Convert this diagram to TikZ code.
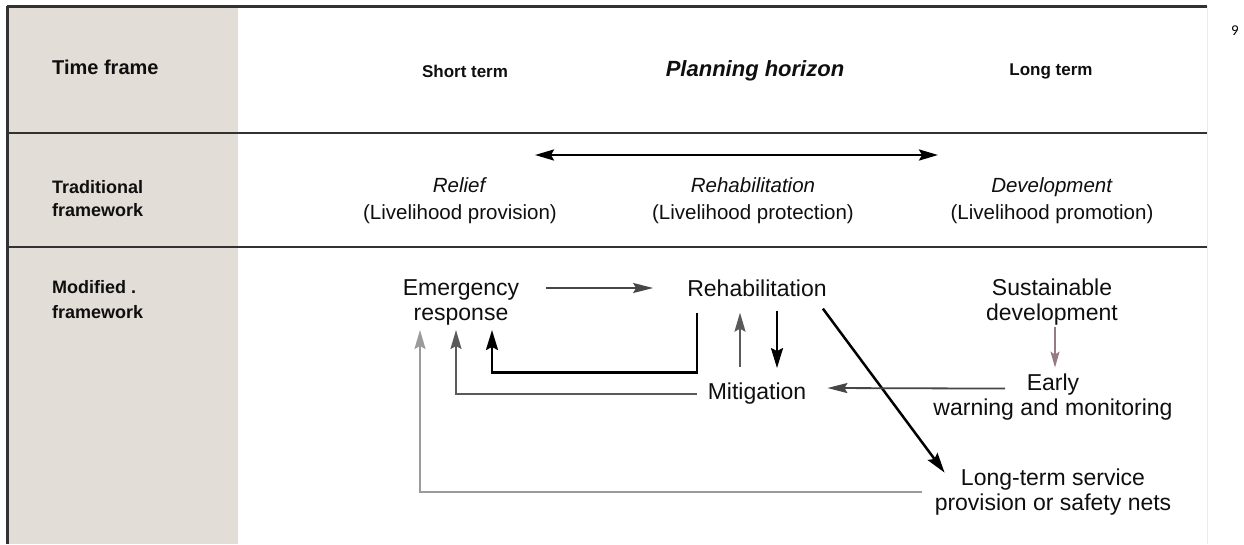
\documentclass[tikz,border=0pt]{standalone}
\usepackage{fontspec}
\setmainfont{Liberation Sans}
\newfontfamily\pagefont{Carlito}
\usetikzlibrary{arrows.meta}
\definecolor{colgrey}{RGB}{227,221,215}
\definecolor{rulegrey}{RGB}{50,50,50}
\definecolor{darkarr}{RGB}{70,70,70}
\definecolor{midarr}{RGB}{90,90,90}
\definecolor{lightarr}{RGB}{155,155,155}
\definecolor{mauvearr}{RGB}{150,122,132}
\definecolor{inktext}{RGB}{15,15,15}
\tikzset{
  x=1pt, y=-1pt,
  modtext/.style={inner sep=0pt, align=center, text=inktext, font=\fontsize{23}{25}\selectfont},
  tradtext/.style={inner sep=0pt, align=center, text=inktext, font=\fontsize{20.5}{27}\selectfont},
  hdrtext/.style={inner sep=0pt, text=inktext, font=\bfseries\fontsize{17}{20}\selectfont},
  rowlabel/.style={inner sep=0pt, anchor=west, align=left, text=inktext, font=\bfseries\fontsize{18}{23}\selectfont},
  rulerline/.style={draw=rulegrey, line width=2.6pt},
  blackarr/.style={draw=black, line width=2.5pt, -{Stealth[length=20pt,width=12pt,inset=3pt]}},
  darkarrow/.style={draw=darkarr, line width=1.8pt, -{Stealth[length=20pt,width=10pt,inset=3pt]}},
  midarrow/.style={draw=midarr, line width=2pt, -{Stealth[length=19pt,width=11pt,inset=3pt]}},
  lightarrow/.style={draw=lightarr, line width=2pt, -{Stealth[length=19pt,width=11pt,inset=3pt]}},
  mauvearrow/.style={draw=mauvearr, line width=1.5pt, -{Stealth[length=16pt,width=9pt,inset=3pt]}},
}
\begin{document}
\begin{tikzpicture}
\useasboundingbox (0,0) rectangle (1244,544);
\fill[white] (0,0) rectangle (1244,544);
% grey label column
\fill[colgrey] (7,6) rectangle (238,544);
% frame
\draw[draw=rulegrey, line width=3pt] (7,6) -- (1207,6);
\draw[draw=rulegrey, line width=3pt] (7,6) -- (7,544);
\draw[rulerline] (7,133) -- (1207,133);
\draw[rulerline] (7,247) -- (1207,247);
\draw[draw=black!8, line width=1pt] (1207,6) -- (1207,544);
% page number
\node[inner sep=0pt, font=\pagefont\fontsize{15}{18}\selectfont] (pagenum) at (1235,31) {9};

% row labels
\node[rowlabel, font=\bfseries\fontsize{20}{24}\selectfont] (tf) at (52,67) {Time frame};
\node[rowlabel] (trad) at (52,198.5) {Traditional\\framework};
\node[rowlabel, font=\bfseries\fontsize{18}{25}\selectfont] (modf) at (52,300) {Modified .\\framework};

% header row
\node[hdrtext] (short) at (465,71) {Short term};
\node[inner sep=0pt, text=inktext, font=\bfseries\itshape\fontsize{22}{26}\selectfont] (plan) at (755,71) {Planning horizon};
\node[hdrtext] (long) at (1051,71) {Long term};

% traditional framework row
\coordinate (hl) at (535,155);
\coordinate (hr) at (938,155);
\draw[draw=black, line width=2.6pt, {Stealth[length=19pt,width=11pt,inset=3pt]}-{Stealth[length=19pt,width=11pt,inset=3pt]}] (hl) -- (hr);
\node[tradtext] (relief) at (460,200.6) {\textit{Relief}\\(Livelihood provision)};
\node[tradtext] (rehabt) at (753,200.6) {\textit{Rehabilitation}\\(Livelihood protection)};
\node[tradtext] (devt) at (1052,200.6) {\textit{Development}\\(Livelihood promotion)};

% modified framework row
\node[modtext] (em) at (461,302) {Emergency\\response};
\node[modtext] (rehab) at (757,288) {Rehabilitation};
\node[modtext] (sust) at (1052,302) {Sustainable\\development};
\node[modtext] (mit) at (757,394) {Mitigation};
\node[modtext] (early) at (1053,397) {Early\\warning and monitoring};
\node[modtext] (lts) at (1053,492) {Long-term service\\provision or safety nets};

% connectors
\draw[darkarrow] ([shift={(27pt,14pt)}]em.east) -- ([xshift=-34pt]rehab.west);
\draw[blackarr] ([shift={(-60pt,-16pt)}]rehab.south) -- ++(0,60) -| ([shift={(31pt,-5pt)}]em.south);
\draw[midarrow] ([xshift=-11pt]mit.west) -| ([shift={(-5pt,-5pt)}]em.south);
\draw[lightarrow] ([xshift=-13pt]lts.west) -| ([shift={(-41pt,-5pt)}]em.south);
\draw[midarrow] ([shift={(-17pt,16pt)}]mit.north) -- ([shift={(-17pt,-16pt)}]rehab.south);
\draw[blackarr] ([shift={(20pt,-14pt)}]rehab.south) -- ([shift={(20pt,15pt)}]mit.north);
\draw[blackarr] ([shift={(-4pt,-12pt)}]rehab.south east) -- ([shift={(10pt,-4pt)}]lts.north west);
\draw[darkarrow] ([shift={(-48pt,-15pt)}]early.north) -- ([shift={(21pt,6pt)}]mit.east);
\draw[mauvearrow] ([shift={(3pt,-2pt)}]sust.south) -- ([shift={(2pt,6pt)}]early.north);
\end{tikzpicture}
\end{document}
